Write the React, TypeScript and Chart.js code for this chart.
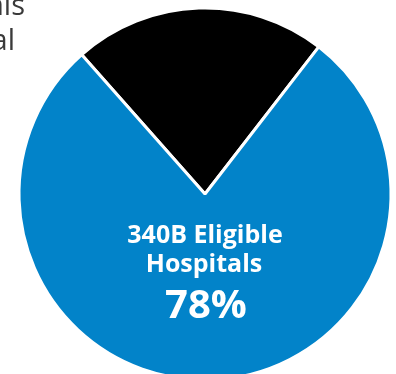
import React, { useEffect, useRef } from "react";
import { Chart, registerables } from "chart.js";

Chart.register(...registerables);

const categories = ["Not 340B Eligible", "340B Eligible Hospitals"];
const shares = [22, 78];
const colors = ["#000000", "#0283C9"];
const centerLines = ["340B Eligible", "Hospitals", "78%"];
const sideLines = ["als", "al"];

const labelPlugin = {
  id: "labels",
  afterDraw(chart: any) {
    const { ctx } = chart;
    const meta = chart.getDatasetMeta(0);
    const arc = meta.data[0];
    const cx = arc.x;
    const cy = arc.y;
    ctx.save();
    ctx.fillStyle = "#ffffff";
    ctx.textAlign = "center";
    ctx.textBaseline = "alphabetic";
    ctx.font = "bold 25px 'Open Sans'";
    ctx.fillText(centerLines[0], cx, cy + 49);
    ctx.fillText(centerLines[1], cx - 1, cy + 77.5);
    ctx.font = "bold 40px 'Open Sans'";
    ctx.fillText(centerLines[2], cx + 1, cy + 124);
    ctx.fillStyle = "#3a3a3a";
    ctx.textAlign = "right";
    ctx.font = "29px 'Open Sans'";
    ctx.fillText(sideLines[0], 25, 15);
    ctx.fillText(sideLines[1], 15, 50);
    ctx.restore();
  },
};

export default function App() {
  const ref = useRef<HTMLCanvasElement>(null);
  useEffect(() => {
    if (!ref.current) return;
    const chart = new Chart(ref.current, {
      type: "pie",
      data: {
        labels: categories,
        datasets: [
          {
            data: shares,
            backgroundColor: colors,
            borderColor: "#ffffff",
            borderWidth: 3,
          },
        ],
      },
      options: {
        animation: false,
        responsive: true,
        maintainAspectRatio: false,
        rotation: -41.5,
        layout: { padding: { left: 17.5, right: 3.5, top: 6.5, bottom: 8.5 } },
        plugins: {
          legend: { display: false },
          tooltip: { enabled: false },
        },
      },
      plugins: [labelPlugin],
    });
    return () => chart.destroy();
  }, []);
  return (
    <div style={{ position: "fixed", left: 0, top: 0, width: 396, height: 374, overflow: "hidden", background: "#fff" }}>
      <div style={{ position: "absolute", left: 0, top: 0, width: 396, height: 390 }}>
        <canvas ref={ref} />
      </div>
    </div>
  );
}
